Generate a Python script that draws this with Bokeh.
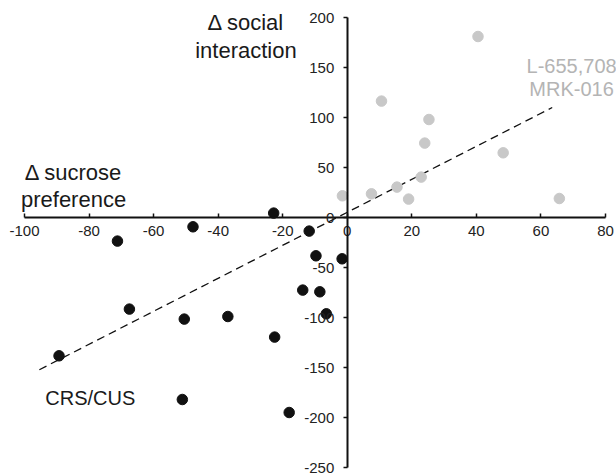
import numpy as np
from bokeh.plotting import figure
from bokeh.models import Range1d, FixedTicker, Label
from bokeh.embed import file_html
from bokeh.resources import INLINE

# ---- data ----
crs_x = [-22.8, -47.8, -71.2, -11.8, -9.7, -1.6, -13.8, -8.5, -6.5, -67.5, -50.5, -37.0, -22.5, -89.3, -51.1, -18.0]
crs_y = [4.7, -9.0, -23.3, -13.3, -38.0, -41.0, -72.3, -74.0, -96.0, -91.3, -101.3, -98.7, -119.3, -138.0, -181.7, -194.7]
drug_x = [-1.5, 7.5, 10.6, 15.4, 19.0, 22.9, 24.0, 25.3, 40.5, 48.3, 65.7]
drug_y = [22.0, 24.0, 116.7, 30.7, 18.7, 40.7, 74.7, 98.3, 181.3, 65.0, 19.3]
fit_slope = 1.65
fit_intercept = 5.5
fit_x = [-95.4, 63.5]
x_ticks = [-100, -80, -60, -40, -20, 0, 20, 40, 60, 80]
y_ticks = [-250, -200, -150, -100, -50, 0, 50, 100, 150, 200]
x_title = ["\u0394 sucrose", "preference"]
y_title = ["\u0394 social", "interaction"]
drug_label = ["L-655,708", "MRK-016"]
crs_label = "CRS/CUS"

FONT = "Liberation Sans"
W, H = 616, 475
# pixel mapping: x -100 -> 24, 80 -> 605 ; y 200 -> 17.3, -250 -> 467.3
sx = (605 - 24) / 180.0
sy = (467.3 - 17.3) / 450.0
xr = Range1d(-100 - 24 / sx, 80 + (W - 605) / sx)
yr = Range1d(-250 - (H - 467.3) / sy, 200 + 17.3 / sy)

p = figure(width=W, height=H, x_range=xr, y_range=yr, output_backend="svg",
           toolbar_location=None, title=None, min_border=0,
           min_border_left=0, min_border_right=0, min_border_top=0, min_border_bottom=0)
p.outline_line_color = None
p.xgrid.visible = False
p.ygrid.visible = False
p.background_fill_color = "white"
p.border_fill_color = "white"

for ax in (p.xaxis[0], p.yaxis[0]):
    ax.fixed_location = 0
    ax.axis_line_width = 2
    ax.axis_line_color = "#111111"
    ax.major_tick_line_color = "#111111"
    ax.major_tick_line_width = 1.5
    ax.minor_tick_line_color = None
    ax.major_label_text_font = FONT
    ax.major_label_text_font_size = "15px"
    ax.major_label_text_color = "#222222"

p.xaxis[0].ticker = FixedTicker(ticks=x_ticks)
p.xaxis[0].major_label_overrides = {t: str(t) for t in x_ticks}
p.xaxis[0].bounds = (x_ticks[0], x_ticks[-1])
p.xaxis[0].major_tick_in = 4
p.xaxis[0].major_tick_out = 0
p.xaxis[0].major_label_standoff = 8

p.yaxis[0].ticker = FixedTicker(ticks=y_ticks)
p.yaxis[0].major_label_overrides = {t: str(t) for t in y_ticks}
p.yaxis[0].bounds = (y_ticks[0], y_ticks[-1])
p.yaxis[0].major_tick_in = 0
p.yaxis[0].major_tick_out = 4
p.yaxis[0].major_label_standoff = 9

# regression line
fx = np.array(fit_x)
fy = fit_slope * fx + fit_intercept
p.line(fx, fy, line_color="#111111", line_width=1.3, line_dash="8 5")

p.scatter(drug_x, drug_y, size=10.5, fill_color="#c8c8c8", line_color="#c8c8c8")
p.scatter(crs_x, crs_y, size=10.5, fill_color="#111111", line_color="#111111")

def lab(x, y, t, color="#1a1a1a", size="22px"):
    p.add_layout(Label(x=x, y=y, text=t, text_align="center", text_baseline="middle",
                       text_font=FONT, text_font_size=size, text_color=color))

lab(-31.4, 195.6, y_title[0])
lab(-31.4, 167.3, y_title[1])
lab(-84.8, 45.3, x_title[0])
lab(-84.8, 18.3, x_title[1])
lab(69.5, 152.3, drug_label[0], color="#b4b4b4", size="20px")
lab(69.5, 129.0, drug_label[1], color="#b4b4b4", size="20px")
lab(-79.6, -180.0, crs_label, size="20px")

open("out.html", "w").write(file_html(p, INLINE))
